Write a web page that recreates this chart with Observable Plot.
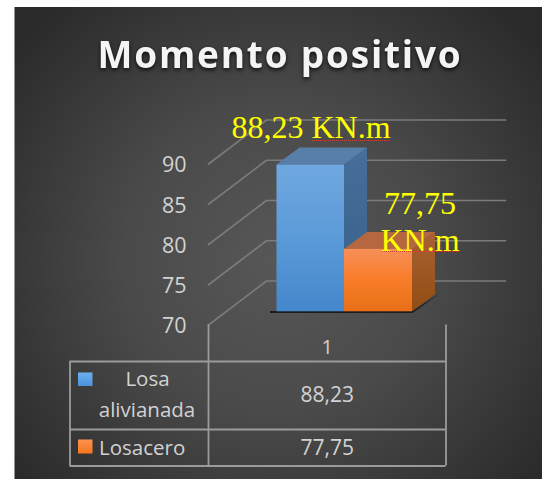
<!DOCTYPE html>
<html>
<head>
<meta charset="utf-8">
<script src="https://cdn.jsdelivr.net/npm/d3@7"></script>
<script src="https://cdn.jsdelivr.net/npm/@observablehq/plot@0.6"></script>
<style>
  html, body { margin: 0; padding: 0; background: #fff; }
  svg { display: block; }
</style>
</head>
<body>
<div id="chart"></div>
<script>
// ---- chart data ----
const chartTitle = "Momento positivo";
const categories = ["1"];
const seriesNames = ["Losa alivianada", "Losacero"];
const seriesValues = [88.23, 77.75];
const yTicks = [70, 75, 80, 85, 90];
const unit = "KN.m";
const decimalComma = v => String(v).replace(".", ",");

// ---- layout ----
const W = 542, H = 479;
const wallLeft = 208, wallRight = 445.5;
const yBase = 324.5, yTop = 163.5;            // value axis on the front plane
const pxPerUnit = (yBase - yTop) / 20;
const X = p => (p - wallLeft) / (wallRight - wallLeft);   // layout pixel -> x units
const Y = p => 70 + (yBase - p) / pxPerUnit;              // layout pixel -> y units

const wallDx = X(266) - X(208), wallDy = 44 / pxPerUnit;  // back wall depth
const barDx = X(367) - X(344), barDy = 17 / pxPerUnit;    // bar depth
const barLift = Y(311.3) - 70;                            // bar front plane above axis floor
const barEdges = [X(276.5), X(344), X(412)];
const faceIds = [["blueF", "blueS", "#587fa9"], ["orF", "orS", "#b5683f"]];

const bars = seriesValues.map((v, i) => ({
  v, x1: barEdges[i], x2: barEdges[i + 1],
  b: 70 + barLift, t: v + barLift, front: faceIds[i][0], side: faceIds[i][1], top: faceIds[i][2]
}));

const rows = [Y(361), Y(429), Y(465.5)];
const tableLeft = X(69.5);
const rowMid = [Y(394.5), Y(447.5)];
const ink = "#d2d2d2", tableFont = "Open Sans";

const marks = [
  // background
  Plot.rect([0], {x1: X(14.5), x2: X(W + 1), y1: Y(7), y2: Y(H + 1), fill: "url(#bg)"}),

  // walls / gridlines
  ...yTicks.map(t => Plot.line([[0, t], [wallDx, t + wallDy], [X(505), t + wallDy]], {
    stroke: "#7b7b7b", strokeWidth: 1.7, curve: "linear"
  })),
  // floor shadow
  Plot.area([
    {x: X(270), y1: Y(313), y2: Y(311)},
    {x: X(412.5), y1: Y(313), y2: Y(311)},
    {x: X(441), y1: Y(292.5), y2: Y(292.5)}
  ], {x1: "x", y1: "y1", y2: "y2", fill: "#1c1c1c", curve: "linear"}),

  // blue and orange cuboids (side, top, front)
  ...bars.flatMap(d => [
    Plot.area([
      {x: d.x2, y1: d.b, y2: d.t},
      {x: d.x2 + barDx, y1: d.b + barDy, y2: d.t + barDy}
    ], {x1: "x", y1: "y1", y2: "y2", fill: `url(#${d.side})`, curve: "linear"}),
    Plot.area([
      {y: d.t, x1: d.x1, x2: d.x2},
      {y: d.t + barDy, x1: d.x1 + barDx, x2: d.x2 + barDx}
    ], {y1: "y", x1: "x1", x2: "x2", fill: d.top, curve: "linear"}),
    Plot.rect([d], {x1: "x1", x2: "x2", y1: "b", y2: "t", fill: `url(#${d.front})`})
  ]),

  // data table rules
  Plot.ruleY(rows, {x1: tableLeft, x2: 1, stroke: "#9b9b9b", strokeWidth: 1.8}),
  Plot.ruleX([tableLeft], {y1: rows[0], y2: rows[2], stroke: "#9b9b9b", strokeWidth: 1.8}),
  Plot.ruleX([0, 1], {y1: 70, y2: rows[2], stroke: "#9b9b9b", strokeWidth: 1.8}),

  // category label
  Plot.text(categories, {x: 0.5, y: Y(347), text: d => d, fill: ink, fontSize: 20, fontFamily: tableFont}),

  // table values
  Plot.text(seriesValues, {x: 0.5, y: (d, i) => rowMid[i], text: decimalComma, fill: ink, fontSize: 21, fontFamily: tableFont}),

  // legend keys
  Plot.rect(seriesValues, {
    x1: X(78), x2: X(92.5),
    y1: (d, i) => [Y(372.5), Y(439.5)][i], y2: (d, i) => [Y(386), Y(453.5)][i],
    fill: (d, i) => `url(#${["keyB", "keyO"][i]})`
  }),
  Plot.text([seriesNames[0].split(" ")[0]], {x: X(147), y: Y(379), text: d => d, fill: ink, fontSize: 20.5, fontFamily: tableFont}),
  Plot.text([seriesNames[0].split(" ")[1]], {x: X(146.5), y: Y(410), text: d => d, fill: ink, fontSize: 20.5, fontFamily: tableFont}),
  Plot.text([seriesNames[1]], {x: X(98.5), y: Y(447.5), text: d => d, textAnchor: "start", fill: ink, fontSize: 20.5, fontFamily: tableFont}),

  // y axis
  Plot.axisY(yTicks, {tickSize: 0, tickPadding: 22, fontSize: 21.5, fill: ink, fontFamily: tableFont, label: null, tickFormat: d => d, dy: 1.5}),

  // data labels
  Plot.text([`${decimalComma(seriesValues[0])} ${unit}`], {x: X(310.5), y: Y(127.5), text: d => d, fill: "#ffff00", fontSize: 32, fontFamily: "Liberation Serif"}),
  Plot.text([`${decimalComma(seriesValues[1])}\n${unit}`], {x: X(419.5), y: Y(220), text: d => d, fill: "#ffff00", fontSize: 32, lineHeight: 1.15, fontFamily: "Liberation Serif"}),
  // spell-check underlines
  Plot.ruleY([Y(140)], {x1: X(312), x2: X(390), stroke: "#c8423a", strokeWidth: 1, strokeDasharray: "1 1"}),
  Plot.ruleY([Y(251)], {x1: X(382), x2: X(459), stroke: "#c8423a", strokeWidth: 1, strokeDasharray: "1 1"}),

  // title
  Plot.text([chartTitle], {x: X(279.5), y: Y(56), text: d => d, fill: "#f4f4f4", fontSize: 37, fontWeight: 700, fontFamily: "Open Sans"})
];

const chart = Plot.plot({
  width: W, height: H,
  marginLeft: wallLeft, marginRight: W - wallRight,
  marginTop: yTop, marginBottom: H - yBase,
  style: {background: "transparent", overflow: "visible"},
  x: {domain: [0, 1], range: [wallLeft, wallRight], axis: null},
  y: {domain: [70, 90], range: [yBase, yTop], axis: null},
  marks
});

// title lettering and soft shadow
d3.select(chart).selectAll("text")
  .filter(function () { return this.textContent === chartTitle; })
  .style("letter-spacing", "1.8px")
  .style("filter", "drop-shadow(0 2px 2px rgba(0,0,0,.8))");

// gradient definitions used by the marks
const defs = d3.select(chart).insert("defs", ":first-child");
function grad(id, stops) {
  const g = defs.append("linearGradient").attr("id", id).attr("x1", 0).attr("y1", 0).attr("x2", 0).attr("y2", 1);
  stops.forEach((c, i) => g.append("stop").attr("offset", i / (stops.length - 1)).attr("stop-color", c));
}
grad("blueF", ["#6fa8e0", "#5b9ad8", "#4487cb"]);
grad("blueS", ["#456f9a", "#365f88"]);
grad("orF", ["#f78f58", "#f87c28", "#e86f18"]);
grad("orS", ["#a96233", "#914d12"]);
grad("keyB", ["#6cb0ee", "#4a93dc"]);
grad("keyO", ["#fb9250", "#f5761e"]);
const bg = defs.append("radialGradient").attr("id", "bg").attr("gradientUnits", "userSpaceOnUse")
  .attr("cx", 278).attr("cy", 260).attr("r", 340);
[[0, "#575757"], [0.45, "#4a4a4a"], [1, "#2a2a2a"]].forEach(([o, c]) =>
  bg.append("stop").attr("offset", o).attr("stop-color", c));

document.getElementById("chart").append(chart);
</script>
</body>
</html>
